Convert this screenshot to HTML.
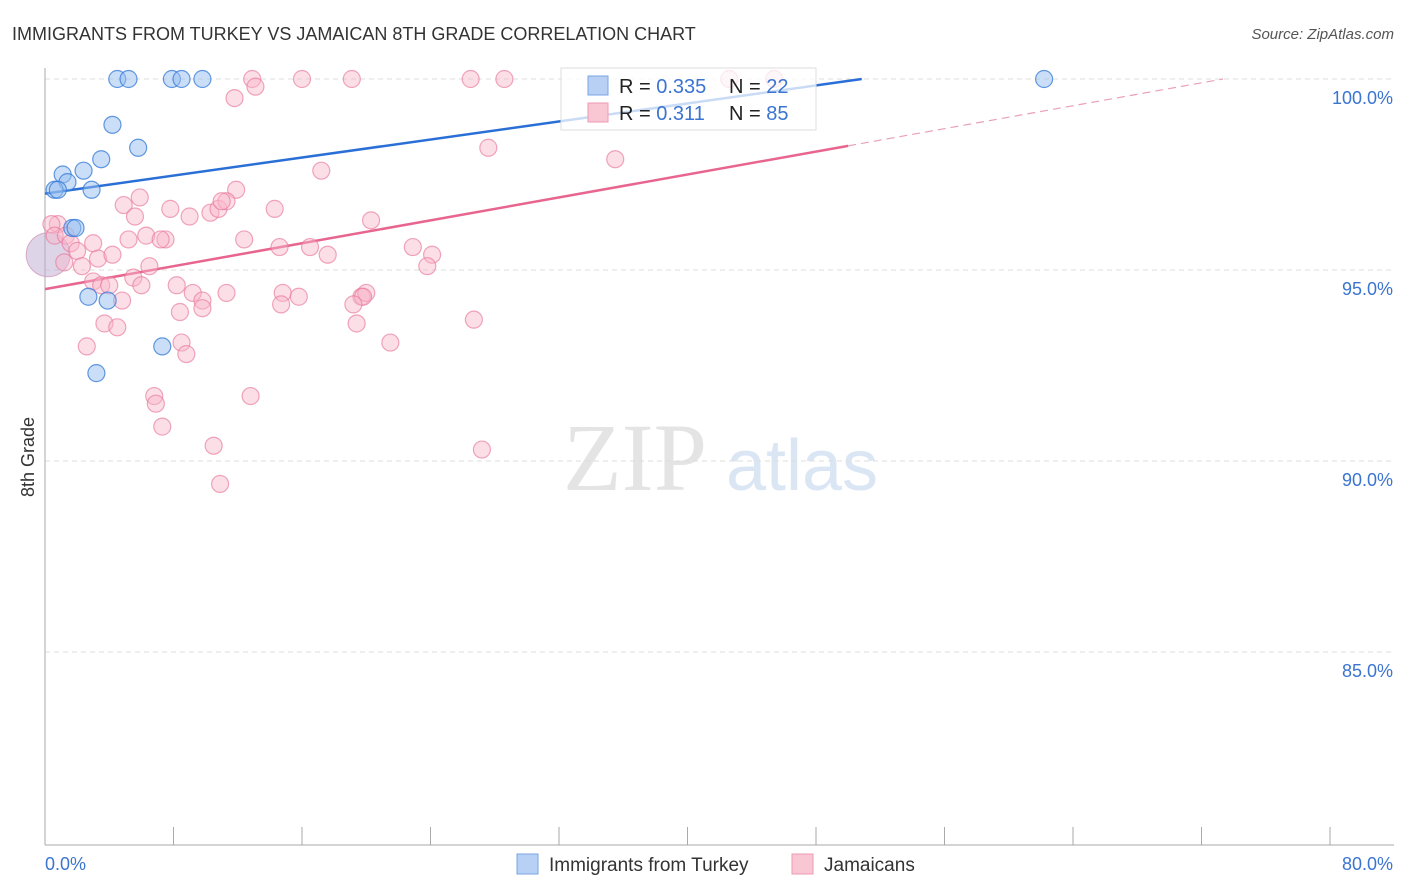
<!DOCTYPE html>
<html><head><meta charset="utf-8">
<style>
body{margin:0;background:#fff;font-family:"Liberation Sans",sans-serif;}
svg{display:block}
</style></head>
<body>
<svg id="chart" width="1406" height="892" xmlns="http://www.w3.org/2000/svg">
<text x="12" y="40" font-size="18" fill="#333">IMMIGRANTS FROM TURKEY VS JAMAICAN 8TH GRADE CORRELATION CHART</text>
<text x="1394" y="39" font-size="15" fill="#555" font-style="italic" text-anchor="end">Source: ZipAtlas.com</text>
<g>
<text x="635" y="490" font-size="96" fill="#e4e4e4" font-family="Liberation Serif,serif" text-anchor="middle">ZIP</text>
<text x="802" y="490" font-size="72" fill="#dbe6f5" text-anchor="middle">atlas</text>
</g>
<g id="grid"></g>
<g id="axes"></g>
<g id="lines"></g>
<g id="pts"></g>
<g>
<rect x="561" y="68" width="255" height="62" fill="rgba(255,255,255,0.75)" stroke="#ddd"/>
<rect x="588" y="76" width="20" height="19" fill="#b7d0f4" stroke="#7aa5e6"/>
<text x="619" y="93" font-size="20" fill="#222">R = <tspan fill="#3b74d1">0.335</tspan></text>
<text x="729" y="93" font-size="20" fill="#222">N = <tspan fill="#3b74d1">22</tspan></text>
<rect x="588" y="103" width="20" height="19" fill="#f9c6d4" stroke="#ee9ab2"/>
<text x="619" y="120" font-size="20" fill="#222">R =  <tspan fill="#3b74d1">0.311</tspan></text>
<text x="729" y="120" font-size="20" fill="#222">N = <tspan fill="#3b74d1">85</tspan></text>
</g>
<g>
<rect x="517" y="854" width="21" height="20" fill="#b7d0f4" stroke="#7aa5e6"/>
<text x="549" y="871" font-size="19" fill="#333">Immigrants from Turkey</text>
<rect x="792" y="854" width="21" height="20" fill="#f9c6d4" stroke="#ee9ab2"/>
<text x="824" y="871" font-size="19" fill="#333">Jamaicans</text>
</g>
<text transform="translate(34,457) rotate(-90)" font-size="18" fill="#333" text-anchor="middle">8th Grade</text>
</svg>
<script>
const yTicks=[100,95,90,85];
const yTickLabels=["100.0%","95.0%","90.0%","85.0%"];
const xTickVals=[0,8,16,24,32,40,48,56,64,72,80];
const xEndLabels=["0.0%","80.0%"];
const turkeyX=[4.5,5.2,7.9,8.5,9.8,62.2,4.2,5.8,3.5,2.4,1.1,1.4,2.9,0.6,0.8,1.7,1.9,2.7,3.9,7.3,3.2];
const turkeyY=[100,100,100,100,100,100,98.8,98.2,97.9,97.6,97.5,97.3,97.1,97.1,97.1,96.1,96.1,94.3,94.2,93.0,92.3];
const jamX=[12.9,16.0,19.1,26.5,28.6,42.6,45.4,11.8,13.1,35.5,27.6,17.2,11.9,5.9,4.9,7.8,10.3,10.8,11.3,11.0,14.3,9.0,5.6,20.3,0.8,0.4,0.6,1.3,1.6,3.0,5.2,6.3,7.5,7.2,12.4,14.6,16.5,17.6,22.9,24.1,23.8,2.0,3.3,4.2,1.2,6.5,2.3,5.5,3.0,3.5,4.0,6.0,8.2,9.2,11.3,14.8,15.8,19.7,20.0,19.8,19.2,14.7,9.8,4.8,9.8,8.4,19.4,3.7,4.5,2.6,8.5,8.8,21.5,26.7,6.8,6.9,12.8,7.3,10.5,27.2,10.9];
const jamY=[100,100,100,100,100,100,100,99.5,99.8,97.9,98.2,97.6,97.1,96.9,96.7,96.6,96.5,96.6,96.8,96.8,96.6,96.4,96.4,96.3,96.2,96.2,95.9,95.9,95.7,95.7,95.8,95.9,95.8,95.8,95.8,95.6,95.6,95.4,95.6,95.4,95.1,95.5,95.3,95.4,95.2,95.1,95.1,94.8,94.7,94.6,94.6,94.6,94.6,94.4,94.4,94.4,94.3,94.3,94.4,94.3,94.1,94.1,94.2,94.2,94.0,93.9,93.6,93.6,93.5,93.0,93.1,92.8,93.1,93.7,91.7,91.5,91.7,90.9,90.4,90.3,89.4];
const bigPoint=[0.2,95.4];
const turkeyTrend=[97.0,0.059];
const jamTrend=[94.5,0.075];
const NS="http://www.w3.org/2000/svg";
const X0=45,X1=1330,Y100=79,PX_PER=38.2;
const sx=v=>X0+(v/80)*(X1-X0);
const sy=v=>Y100+(100-v)*PX_PER;
function mk(tag,attrs,parent){const e=document.createElementNS(NS,tag);for(const k in attrs)e.setAttribute(k,attrs[k]);parent.appendChild(e);return e;}
const grid=document.getElementById('grid'),axes=document.getElementById('axes'),lines=document.getElementById('lines'),pts=document.getElementById('pts');
yTicks.forEach((t,i)=>{
 const l=mk('line',{x1:X0,x2:1394,y1:sy(t),y2:sy(t),stroke:'#ddd','stroke-dasharray':'5,4'},grid);
 
 
 const tx=mk('text',{x:1393,y:sy(t)+25,'font-size':18,fill:'#3b74d1','text-anchor':'end'},axes);
 tx.textContent=yTickLabels[i];
 
 
});
const ya=mk('line',{x1:X0,x2:X0,y1:68,y2:845,stroke:'#aaa'},axes);


const xa=mk('line',{x1:X0,x2:1394,y1:845,y2:845,stroke:'#aaa'},axes);


xTickVals.forEach(v=>{
 const t=mk('line',{x1:sx(v),x2:sx(v),y1:827,y2:845,stroke:'#aaa'},axes);
 
 
});
const xl0=mk('text',{x:45,y:870,'font-size':18,fill:'#3b74d1'},axes);
xl0.textContent=xEndLabels[0];


const xl1=mk('text',{x:1393,y:870,'font-size':18,fill:'#3b74d1','text-anchor':'end'},axes);
xl1.textContent=xEndLabels[1];


// trend lines
const tEnd=(100-turkeyTrend[0])/turkeyTrend[1];
const bl=mk('line',{x1:sx(0),y1:sy(turkeyTrend[0]),x2:sx(tEnd),y2:sy(100),stroke:'#2a6fd6','stroke-width':2.5},lines);


const jSolidEnd=50,jEnd=(100-jamTrend[0])/jamTrend[1];
const pl=mk('line',{x1:sx(0),y1:sy(jamTrend[0]),x2:sx(jSolidEnd),y2:sy(jamTrend[0]+jamTrend[1]*jSolidEnd),stroke:'#e8658f','stroke-width':2.5},lines);


const pd=mk('line',{x1:sx(jSolidEnd),y1:sy(jamTrend[0]+jamTrend[1]*jSolidEnd),x2:sx(jEnd),y2:sy(100),stroke:'#eaa0b8','stroke-width':1.2,'stroke-dasharray':'8,5'},lines);


// points
const bg=mk('circle',{cx:sx(bigPoint[0]),cy:sy(bigPoint[1]),r:22,fill:'rgba(190,170,210,0.5)',stroke:'rgba(200,130,170,0.6)'},pts);


jamX.forEach((x,i)=>{
 const c=mk('circle',{cx:sx(x),cy:sy(jamY[i]),r:8.5,fill:'rgba(248,182,202,0.45)',stroke:'rgba(232,120,155,0.65)','stroke-width':1.2},pts);
 
 
});
turkeyX.forEach((x,i)=>{
 const c=mk('circle',{cx:sx(x),cy:sy(turkeyY[i]),r:8.5,fill:'rgba(150,190,240,0.5)',stroke:'rgba(50,120,215,0.75)','stroke-width':1.2},pts);
 
 
});
</script>
</body></html>
